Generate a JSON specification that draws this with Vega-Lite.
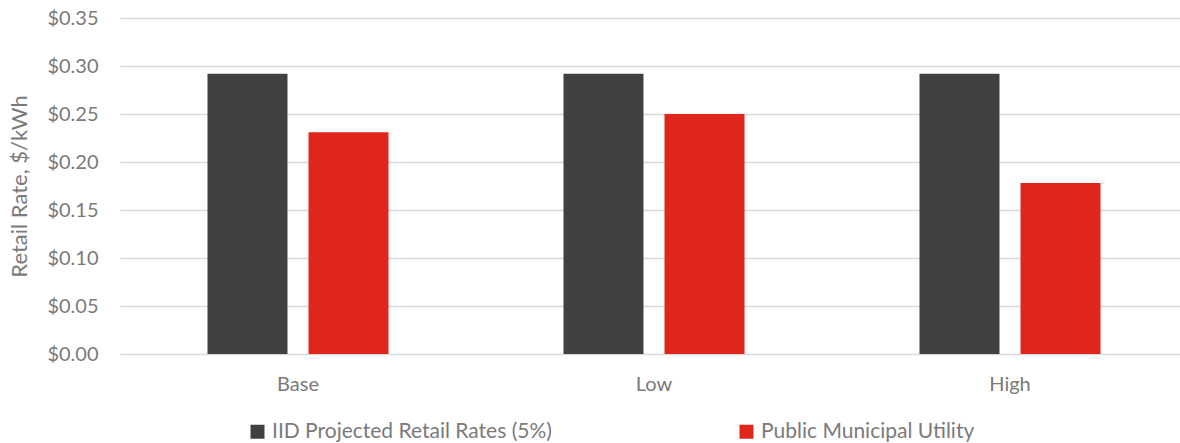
{
  "$schema": "https://vega.github.io/schema/vega-lite/v6.json",
  "autosize": {"type": "none"},
  "padding": {"left": 120, "top": 18, "right": -8, "bottom": 89},
  "width": 1068,
  "height": 336,
  "config": {
    "font": "Lato",
    "view": {"stroke": null},
    "axis": {"labelColor": "#7A7A7A", "titleColor": "#7A7A7A", "labelFont": "Lato", "titleFont": "Lato"}
  },
  "data": {
    "values": [
      {"scenario": "Base", "series": "IID Projected Retail Rates (5%)", "rate": 0.292},
      {"scenario": "Base", "series": "Public Municipal Utility", "rate": 0.231},
      {"scenario": "Low", "series": "IID Projected Retail Rates (5%)", "rate": 0.292},
      {"scenario": "Low", "series": "Public Municipal Utility", "rate": 0.250},
      {"scenario": "High", "series": "IID Projected Retail Rates (5%)", "rate": 0.292},
      {"scenario": "High", "series": "Public Municipal Utility", "rate": 0.178}
    ]
  },
  "mark": {"type": "bar"},
  "encoding": {
    "x": {
      "field": "scenario", "type": "nominal", "sort": ["Base", "Low", "High"],
      "scale": {"paddingInner": 0, "paddingOuter": 0},
      "axis": {"title": null, "labelAngle": 0, "labelFontSize": 20, "labelPadding": 20, "ticks": false, "domain": false, "grid": false}
    },
    "xOffset": {
      "field": "series", "type": "nominal",
      "scale": {"paddingInner": 0.208, "paddingOuter": 0.866}
    },
    "y": {
      "field": "rate", "type": "quantitative",
      "scale": {"domain": [0, 0.35], "nice": false},
      "axis": {"title": "Retail Rate, $/kWh", "titleFontSize": 22, "titleFontWeight": "normal", "titlePadding": 15, "format": "$.2f", "labelFontSize": 20, "labelPadding": 22, "labelOverlap": false, "values": [0, 0.05, 0.1, 0.15, 0.2, 0.25, 0.3, 0.35], "ticks": false, "domain": false, "gridColor": "#D9D9D9", "gridWidth": 1.5}
    },
    "color": {
      "field": "series", "type": "nominal",
      "scale": {"range": ["#404040", "#E0251B"]},
      "legend": {"title": null, "orient": "none", "legendX": 127, "legendY": 403, "direction": "horizontal", "columns": 2, "columnPadding": 184, "symbolType": "square", "symbolSize": 196, "symbolOpacity": 1, "labelFontSize": 21, "labelColor": "#7A7A7A", "labelOffset": 4, "labelLimit": 400}
    }
  }
}
